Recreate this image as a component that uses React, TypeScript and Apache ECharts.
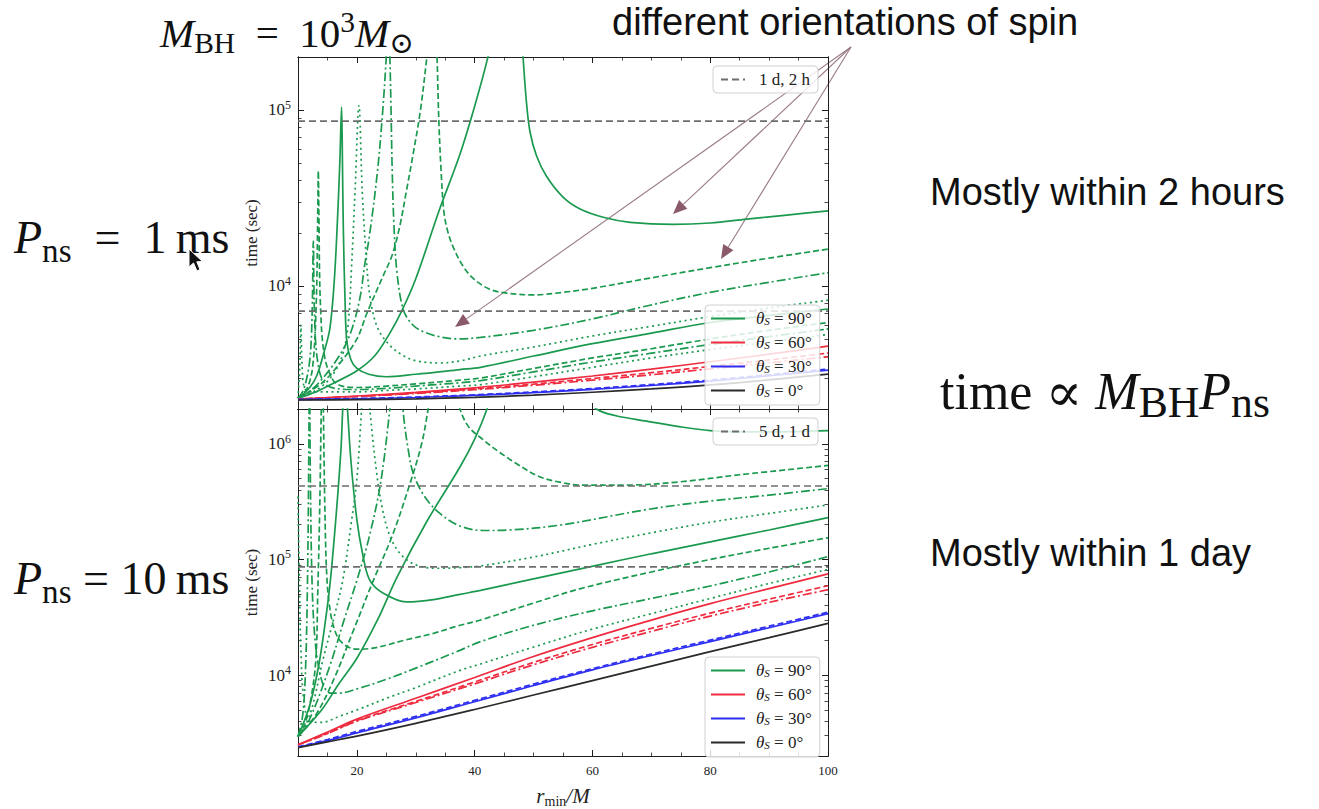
import { useEffect, useRef } from 'react';
import * as echarts from 'echarts';

type Pt = [number, number];

const SERIF = '"Liberation Serif", "DejaVu Serif", serif';
const SANS = '"Liberation Sans", Arial, sans-serif';

// ---- axes -----------------------------------------------------------
const X_MIN = 10;
const X_MAX = 100;
const xMajorTicks = [20, 40, 60, 80, 100];
const xMinorTicks = [15, 25, 30, 35, 45, 50, 55, 65, 70, 75, 85, 90, 95];

const topRange: Pt = [2000, 200000];
const bottomRange: Pt = [2000, 2000000];
const topYMajor = [1e4, 1e5];
const bottomYMajor = [1e4, 1e5, 1e6];
const topYMinor = [3e3, 4e3, 5e3, 6e3, 7e3, 8e3, 9e3, 2e4, 3e4, 4e4, 5e4, 6e4, 7e4, 8e4, 9e4];
const bottomYMinor = [
  3e3, 4e3, 5e3, 6e3, 7e3, 8e3, 9e3,
  2e4, 3e4, 4e4, 5e4, 6e4, 7e4, 8e4, 9e4,
  2e5, 3e5, 4e5, 5e5, 6e5, 7e5, 8e5, 9e5,
];

// reference durations in seconds
const topRefLevels = [86400, 7200]; // 1 d, 2 h
const bottomRefLevels = [432000, 86400]; // 5 d, 1 d

// ---- P_ns = 1 ms ------------------------------------------------------
const topG90SolidA_rise: Pt[] = [[10, 2300], [13, 2500], [16, 2800], [20, 3300], [23, 4000], [25.6, 5400], [27.6, 7200], [30, 1.1e4], [34, 2.7e4], [37.5, 5.6e4], [40, 1.05e5], [42.3, 2.03e5], [43.5, 3.2e5]];
const topG90SolidA_fall: Pt[] = [[47.8, 3.2e5], [48.2, 2.03e5], [48.8, 1.1e5], [49.4, 7.5e4], [50.5, 5.5e4], [52.2, 4.2e4], [55, 3.2e4], [57.9, 2.74e4], [62, 2.45e4], [66.4, 2.3e4], [73.7, 2.24e4], [80, 2.28e4], [86.2, 2.4e4], [93, 2.53e4], [100, 2.67e4]];
const topG90DashedA_rise: Pt[] = [[10, 2300], [14, 2800], [17, 3600], [20, 5000], [21.7, 7000], [24.5, 1.15e4], [26, 1.5e4], [27.3, 2.2e4], [28.5, 3.6e4], [29.5, 5.5e4], [30.8, 1e5], [31.9, 2.03e5], [32.5, 3.2e5]];
const topG90DashedA_fall: Pt[] = [[33.3, 3.2e5], [33.6, 2.03e5], [33.9, 9e4], [34.3, 4.5e4], [34.8, 2.6e4], [35.5, 2e4], [36.4, 1.65e4], [38, 1.3e4], [39.8, 1.1e4], [42.5, 9.6e3], [45.4, 9.1e3], [50, 8.9e3], [55, 9.2e3], [60, 9.7e3], [69.2, 1.1e4], [80, 1.27e4], [90, 1.44e4], [100, 1.62e4]];
const topG90DashDotA_rise: Pt[] = [[10, 2300], [13, 2700], [17, 4000], [19, 5500], [20.5, 8500], [21.3, 1.3e4], [22.2, 2e4], [23.5, 4.5e4], [24.4, 1e5], [25, 2.03e5], [25.3, 3.2e5]];
const topG90DashDotA_fall: Pt[] = [[25.4, 3.2e5], [25.6, 2.03e5], [25.8, 1e5], [26, 4.5e4], [26.3, 2.2e4], [26.8, 1.2e4], [27.9, 7.3e3], [29.5, 6e3], [31.3, 5.5e3], [34, 5.15e3], [37, 5e3], [41, 5.1e3], [50, 5.6e3], [60, 6.5e3], [69.2, 7.7e3], [80, 9.2e3], [90, 1.05e4], [100, 1.19e4]];
const topG90DottedA: Pt[] = [[10, 2300], [13, 2550], [15.5, 3000], [17.5, 4000], [18.5, 6000], [19.1, 1.3e4], [19.7, 3.5e4], [20.35, 1.06e5], [20.9, 3.5e4], [21.4, 1.8e4], [22.2, 8.8e3], [23.5, 5.8e3], [25.6, 4.6e3], [28, 4e3], [30.2, 3.75e3], [34, 3.65e3], [37.5, 3.75e3], [41, 4e3], [50, 4.5e3], [60, 5.2e3], [70, 5.9e3], [80, 6.7e3], [90, 7.5e3], [100, 8.3e3]];
const topG90SolidB: Pt[] = [[10, 2300], [12, 2650], [13.2, 3100], [14.5, 4300], [15.4, 5700], [16.1, 1e4], [16.6, 2e4], [17.1, 5e4], [17.4, 1.04e5], [17.55, 5e4], [17.7, 2.1e4], [18, 8e3], [18.3, 4.8e3], [19, 3.8e3], [20, 3.4e3], [22, 3.15e3], [25, 3.05e3], [30, 3.15e3], [37.5, 3.35e3], [41, 3.45e3], [50, 4e3], [60, 4.7e3], [70, 5.4e3], [80, 6.2e3], [90, 6.8e3], [100, 7.4e3]];
const topG90DashedB: Pt[] = [[10, 2300], [11.5, 2600], [12.5, 3500], [13.1, 8e3], [13.35, 2.5e4], [13.45, 4.5e4], [13.55, 2.5e4], [13.8, 8e3], [14.5, 4e3], [16, 2.9e3], [17.5, 2.7e3], [20, 2.65e3], [25, 2.7e3], [30, 2.78e3], [37.5, 2.92e3], [41, 3e3], [50, 3.4e3], [60, 3.9e3], [70, 4.4e3], [80, 5e3], [90, 5.6e3], [100, 6.2e3]];
const topG90DashDotB: Pt[] = [[10, 2300], [11, 2600], [12, 3800], [12.4, 7e3], [12.6, 1.8e4], [12.8, 7e3], [13.3, 3.8e3], [14.5, 2.8e3], [17, 2.6e3], [20, 2.58e3], [25, 2.62e3], [30, 2.7e3], [37.5, 2.82e3], [41, 2.9e3], [50, 3.25e3], [60, 3.7e3], [70, 4.15e3], [80, 4.65e3], [90, 5.15e3], [100, 5.7e3]];
const topG90DottedB: Pt[] = [[10, 2300], [10.3, 3500], [10.5, 6e3], [10.7, 3500], [11.2, 2.6e3], [13, 2.5e3], [17, 2.5e3], [20, 2.5e3], [25, 2.55e3], [30, 2.6e3], [37.5, 2.7e3], [41, 2.75e3], [50, 3.05e3], [60, 3.45e3], [70, 3.9e3], [80, 4.35e3], [90, 4.8e3], [100, 5.3e3]];
const topR60Solid: Pt[] = [[10, 2280], [20, 2370], [30, 2490], [40, 2640], [50, 2840], [60, 3080], [70, 3370], [80, 3710], [90, 4100], [100, 4550]];
const topR60Dashed: Pt[] = [[10, 2280], [20, 2360], [30, 2465], [40, 2600], [50, 2770], [60, 2980], [70, 3215], [80, 3490], [90, 3800], [100, 4160]];
const topR60DashDot: Pt[] = [[10, 2280], [20, 2355], [30, 2450], [40, 2575], [50, 2730], [60, 2915], [70, 3130], [80, 3380], [90, 3660], [100, 3960]];
const topB30Solid: Pt[] = [[10, 2260], [20, 2285], [30, 2325], [40, 2390], [50, 2475], [60, 2585], [70, 2720], [80, 2880], [90, 3090], [100, 3330]];
const topB30Dashed: Pt[] = [[10, 2265], [20, 2295], [30, 2340], [40, 2410], [50, 2500], [60, 2615], [70, 2755], [80, 2920], [90, 3130], [100, 3375]];
const topK0Solid: Pt[] = [[10, 2250], [20, 2260], [30, 2285], [40, 2330], [50, 2400], [60, 2490], [70, 2600], [80, 2740], [90, 2930], [100, 3160]];

// ---- P_ns = 10 ms -----------------------------------------------------
const botG90SolidA_rise: Pt[] = [[10, 2950], [14, 5000], [17, 8500], [20, 1.4e4], [23.5, 3e4], [26.8, 7e4], [31.8, 2.1e5], [37.5, 6.3e5], [40, 1.1e6], [42.1, 2e6], [42.8, 2.8e6]];
const botG90SolidA_fall: Pt[] = [[58.5, 2.8e6], [60.7, 2e6], [64, 1.75e6], [69.2, 1.57e6], [75, 1.4e6], [80, 1.3e6], [85, 1.27e6], [90, 1.27e6], [100, 1.3e6]];
const botG90DashedA_rise: Pt[] = [[10, 2950], [13, 4500], [16, 9000], [19.5, 2.5e4], [22.8, 6.6e4], [26, 1.6e5], [29, 4.5e5], [31, 1e6], [32.1, 2e6], [32.6, 3e6]];
const botG90DashedA_fall: Pt[] = [[36.8, 3e6], [37.5, 2e6], [39, 1.4e6], [41.5, 1.08e6], [44, 8.6e5], [47, 6.8e5], [51, 5.2e5], [55, 4.6e5], [58, 4.4e5], [66, 4.4e5], [75, 4.7e5], [85, 5.4e5], [100, 6.5e5]];
const botG90DashDotA_rise: Pt[] = [[10, 2950], [12, 4200], [15.4, 1.2e4], [18, 3.2e4], [20, 6.6e4], [22, 1.5e5], [24, 4.5e5], [25.6, 2e6], [26, 3.5e6]];
const botG90DashDotA_fall: Pt[] = [[27.5, 3.5e6], [27.9, 1.8e6], [28.7, 9e5], [29.6, 5.5e5], [31.5, 3.5e5], [34.1, 2.5e5], [37.5, 1.95e5], [41.5, 1.78e5], [46, 1.8e5], [55, 2e5], [69.2, 2.7e5], [80, 3.2e5], [90, 3.6e5], [100, 4.1e5]];
const botG90DottedA_rise: Pt[] = [[10, 2950], [12, 4500], [14.3, 1.4e4], [16, 3e4], [17.6, 6.6e4], [19, 2e5], [20, 5e5], [20.8, 2e6], [21.2, 4e6]];
const botG90DottedA_fall: Pt[] = [[21.8, 4e6], [22.2, 2e6], [23.3, 5.9e5], [24.3, 2.8e5], [25.6, 1.6e5], [27.5, 1.1e5], [30.2, 8.9e4], [34, 8.4e4], [37.5, 8.5e4], [41, 8.8e4], [50, 1.05e5], [60, 1.35e5], [70, 1.7e5], [80, 2.1e5], [90, 2.5e5], [100, 2.96e5]];
const botG90SolidB_rise: Pt[] = [[10, 2950], [12, 5500], [13.5, 1.2e4], [14.6, 2.8e4], [15.5, 6.6e4], [16.5, 2.5e5], [17.3, 9e5], [17.6, 2e6], [17.9, 3.2e6]];
const botG90SolidB_fall: Pt[] = [[18.1, 3.2e6], [18.4, 2e6], [19, 7e5], [20, 2.2e5], [21, 1.1e5], [22.2, 6.6e4], [24.5, 5.1e4], [28.4, 4.3e4], [33, 4.5e4], [37.5, 5e4], [41, 5.4e4], [50, 6.8e4], [60.7, 8.9e4], [70, 1.12e5], [80, 1.42e5], [90, 1.8e5], [100, 2.3e5]];
const botG90DashedB_rise: Pt[] = [[10, 2950], [11, 3600], [12, 5500], [13, 1.3e4], [13.35, 5e4], [13.7, 3e5], [13.95, 2e6], [14.05, 3e6]];
const botG90DashedB_fall: Pt[] = [[14.2, 3e6], [14.3, 2e6], [14.55, 3e5], [14.9, 7e4], [15.5, 3.5e4], [16.3, 2.4e4], [17.1, 2e4], [18.5, 1.75e4], [20, 1.68e4], [23, 1.72e4], [28, 2e4], [33, 2.3e4], [37, 2.65e4], [41, 3e4], [50, 4.2e4], [58, 5.6e4], [70, 7.8e4], [80, 1e5], [90, 1.25e5], [100, 1.54e5]];
const botG90DashDotB_rise: Pt[] = [[10, 2950], [10.8, 4500], [11.3, 1.2e4], [11.6, 6e4], [11.8, 5e5], [11.9, 3e6]];
const botG90DashDotB_fall: Pt[] = [[12, 3e6], [12.1, 5e5], [12.4, 6e4], [12.9, 2e4], [13.7, 1.05e4], [14.5, 7.8e3], [15.5, 7e3], [17, 7e3], [20, 7.6e3], [25, 9.2e3], [30, 1.15e4], [37, 1.6e4], [41, 1.95e4], [50, 2.7e4], [60, 3.6e4], [70, 4.6e4], [80, 5.9e4], [90, 7.8e4], [100, 1.06e5]];
const botG90DottedB: Pt[] = [[10, 3.5e5], [10.2, 8e4], [10.5, 1.6e4], [11, 6e3], [12, 4e3], [14, 3.9e3], [17, 4.4e3], [20, 5e3], [25, 6.3e3], [30, 7.8e3], [37.5, 1.1e4], [41, 1.25e4], [50, 1.75e4], [60, 2.5e4], [70, 3.4e4], [80, 4.6e4], [90, 6.2e4], [100, 8.2e4]];
const botR60Solid: Pt[] = [[10, 2500], [15, 3220], [20, 4170], [30, 6310], [40, 9550], [50, 1.45e4], [60, 2.11e4], [70, 2.99e4], [80, 4.15e4], [90, 5.6e4], [100, 7.5e4]];
const botR60Dashed: Pt[] = [[10, 2500], [15, 3140], [20, 4050], [30, 5930], [40, 8740], [50, 1.29e4], [60, 1.84e4], [70, 2.54e4], [80, 3.44e4], [90, 4.54e4], [100, 5.93e4]];
const botR60DashDot: Pt[] = [[10, 2500], [15, 3120], [20, 4000], [30, 5800], [40, 8400], [50, 1.23e4], [60, 1.74e4], [70, 2.39e4], [80, 3.24e4], [90, 4.26e4], [100, 5.48e4]];
const botB30Solid: Pt[] = [[10, 2380], [15, 2720], [20, 3170], [30, 4270], [40, 5890], [50, 8130], [60, 1.11e4], [70, 1.48e4], [80, 1.95e4], [90, 2.57e4], [100, 3.4e4]];
const botB30Dashed: Pt[] = [[10, 2400], [15, 2780], [20, 3260], [30, 4400], [40, 6060], [50, 8370], [60, 1.14e4], [70, 1.52e4], [80, 2.01e4], [90, 2.65e4], [100, 3.5e4]];
const botK0Solid: Pt[] = [[10, 2360], [15, 2650], [20, 2970], [30, 3830], [40, 5050], [50, 6730], [60, 8970], [70, 1.197e4], [80, 1.596e4], [90, 2.11e4], [100, 2.8e4]];

// ---- styling --------------------------------------------------------
const COLORS: Record<number, string> = { 90: '#1b9a4f', 60: '#ef2b3f', 30: '#2f2ff2', 0: '#2a2a2a' };
const DASH: Record<string, any> = {
  solid: 'solid',
  dashed: [6, 3],
  dashdot: [9, 3, 2, 3],
  dotted: [2, 3.5],
};
const AXIS = '#1e1e1e';
const REF = '#6d6d6d';
const thetaName = (deg: number) => `θ_S = ${deg}°`;

type Curve = { panel: number; theta: number; style: string; parts: Pt[][] };

const curves: Curve[] = [
  { panel: 0, theta: 90, style: 'solid', parts: [topG90SolidA_rise, topG90SolidA_fall] },
  { panel: 0, theta: 90, style: 'dashed', parts: [topG90DashedA_rise, topG90DashedA_fall] },
  { panel: 0, theta: 90, style: 'dashdot', parts: [topG90DashDotA_rise, topG90DashDotA_fall] },
  { panel: 0, theta: 90, style: 'dotted', parts: [topG90DottedA] },
  { panel: 0, theta: 90, style: 'solid', parts: [topG90SolidB] },
  { panel: 0, theta: 90, style: 'dashed', parts: [topG90DashedB] },
  { panel: 0, theta: 90, style: 'dashdot', parts: [topG90DashDotB] },
  { panel: 0, theta: 90, style: 'dotted', parts: [topG90DottedB] },
  { panel: 0, theta: 60, style: 'solid', parts: [topR60Solid] },
  { panel: 0, theta: 60, style: 'dashed', parts: [topR60Dashed] },
  { panel: 0, theta: 60, style: 'dashdot', parts: [topR60DashDot] },
  { panel: 0, theta: 30, style: 'solid', parts: [topB30Solid] },
  { panel: 0, theta: 30, style: 'dashed', parts: [topB30Dashed] },
  { panel: 0, theta: 0, style: 'solid', parts: [topK0Solid] },

  { panel: 1, theta: 90, style: 'solid', parts: [botG90SolidA_rise, botG90SolidA_fall] },
  { panel: 1, theta: 90, style: 'dashed', parts: [botG90DashedA_rise, botG90DashedA_fall] },
  { panel: 1, theta: 90, style: 'dashdot', parts: [botG90DashDotA_rise, botG90DashDotA_fall] },
  { panel: 1, theta: 90, style: 'dotted', parts: [botG90DottedA_rise, botG90DottedA_fall] },
  { panel: 1, theta: 90, style: 'solid', parts: [botG90SolidB_rise, botG90SolidB_fall] },
  { panel: 1, theta: 90, style: 'dashed', parts: [botG90DashedB_rise, botG90DashedB_fall] },
  { panel: 1, theta: 90, style: 'dashdot', parts: [botG90DashDotB_rise, botG90DashDotB_fall] },
  { panel: 1, theta: 90, style: 'dotted', parts: [botG90DottedB] },
  { panel: 1, theta: 60, style: 'solid', parts: [botR60Solid] },
  { panel: 1, theta: 60, style: 'dashed', parts: [botR60Dashed] },
  { panel: 1, theta: 60, style: 'dashdot', parts: [botR60DashDot] },
  { panel: 1, theta: 30, style: 'solid', parts: [botB30Solid] },
  { panel: 1, theta: 30, style: 'dashed', parts: [botB30Dashed] },
  { panel: 1, theta: 0, style: 'solid', parts: [botK0Solid] },
];

function buildSeries() {
  const out: any[] = [];
  curves.forEach((c) => {
    c.parts.forEach((part) => {
      out.push({
        type: 'line',
        name: thetaName(c.theta),
        xAxisIndex: c.panel * 4,
        yAxisIndex: c.panel * 4,
        data: part,
        symbol: 'none',
        showSymbol: false,
        smooth: 0.35,
        color: COLORS[c.theta],
        lineStyle: { color: COLORS[c.theta], width: 1.7, type: DASH[c.style] },
        silent: true,
        z: 2,
      });
    });
  });
  const refs: [number, number[], string][] = [
    [0, topRefLevels, '1 d, 2 h'],
    [1, bottomRefLevels, '5 d, 1 d'],
  ];
  refs.forEach(([panel, levels, name]) => {
    levels.forEach((lv) => {
      out.push({
        type: 'line',
        name,
        xAxisIndex: panel * 4,
        yAxisIndex: panel * 4,
        data: [[X_MIN, lv], [X_MAX, lv]],
        symbol: 'none',
        showSymbol: false,
        color: REF,
        lineStyle: { color: REF, width: 1.6, type: [7, 4] },
        silent: true,
        z: 3,
      });
    });
  });
  return out;
}

const powLabel = (v: number) => {
  const e = v < 50 ? Math.round(v) : Math.round(Math.log10(v));
  return `{b|10}{e|${e}}`;
};

function xAxesFor(grid: number, labelled: boolean) {
  const base = {
    type: 'value',
    gridIndex: grid,
    min: X_MIN,
    max: X_MAX,
    splitLine: { show: false },
    axisLine: { show: true, onZero: false, lineStyle: { color: AXIS, width: 1 } },
  };
  const major = { show: true, inside: true, length: 6, customValues: xMajorTicks, lineStyle: { color: AXIS, width: 1 } };
  const minor = { show: true, inside: true, length: 3.5, customValues: xMinorTicks, lineStyle: { color: AXIS, width: 0.8 } };
  return [
    {
      ...base,
      position: 'bottom',
      axisTick: major,
      axisLabel: labelled
        ? { show: true, customValues: xMajorTicks, margin: 8, fontFamily: SERIF, fontSize: 13, color: '#222' }
        : { show: false },
      name: labelled ? '{i|r}{s|min}{i|/M}' : '',
      nameLocation: 'middle',
      nameGap: 28,
      nameTextStyle: {
        rich: {
          i: { fontFamily: SERIF, fontStyle: 'italic', fontSize: 21, color: '#222', lineHeight: 24 },
          s: { fontFamily: SERIF, fontSize: 14, color: '#222', verticalAlign: 'bottom', lineHeight: 14 },
        },
      },
    },
    { ...base, position: 'bottom', axisTick: minor, axisLabel: { show: false } },
    { ...base, position: 'top', axisTick: major, axisLabel: { show: false } },
    { ...base, position: 'top', axisTick: minor, axisLabel: { show: false } },
  ];
}

function yAxesFor(grid: number, range: Pt, major: number[], minor: number[]) {
  const base = {
    type: 'log',
    logBase: 10,
    gridIndex: grid,
    min: range[0],
    max: range[1],
    splitLine: { show: false },
    axisLine: { show: true, onZero: false, lineStyle: { color: AXIS, width: 1 } },
  };
  const majorTick = { show: true, inside: true, length: 6, customValues: major, lineStyle: { color: AXIS, width: 1 } };
  const minorTick = { show: true, inside: true, length: 3.5, customValues: minor, lineStyle: { color: AXIS, width: 0.8 } };
  return [
    {
      ...base,
      position: 'left',
      axisTick: majorTick,
      axisLabel: {
        show: true,
        customValues: major,
        margin: 7,
        formatter: powLabel,
        rich: {
          b: { fontFamily: SERIF, fontSize: 17, color: '#222', lineHeight: 22 },
          e: { fontFamily: SERIF, fontSize: 12, color: '#222', verticalAlign: 'top', lineHeight: 12 },
        },
      },
      name: 'time (sec)',
      nameLocation: 'middle',
      nameGap: 38,
      nameRotate: 90,
      nameTextStyle: { fontFamily: SERIF, fontSize: 17, color: '#222' },
    },
    { ...base, position: 'left', axisTick: minorTick, axisLabel: { show: false } },
    { ...base, position: 'right', axisTick: majorTick, axisLabel: { show: false } },
    { ...base, position: 'right', axisTick: minorTick, axisLabel: { show: false } },
  ];
}

const thetaLegendNames = [90, 60, 30, 0].map(thetaName);

const legendBase = {
  orient: 'vertical',
  selectedMode: false,
  itemWidth: 34,
  itemHeight: 16,
  itemGap: 7,
  padding: [5, 8, 6, 5],
  backgroundColor: 'rgba(255,255,255,0.82)',
  borderColor: '#d0d0d0',
  borderWidth: 1,
  borderRadius: 4,
  itemStyle: { opacity: 0 },
  textStyle: {
    fontFamily: SERIF,
    fontSize: 16,
    color: '#222',
    rich: {
      th: { fontFamily: SERIF, fontStyle: 'italic', fontSize: 17, color: '#222', lineHeight: 16, padding: [0, 0, 0, 6] },
      sb: { fontFamily: SERIF, fontStyle: 'italic', fontSize: 11, color: '#222', verticalAlign: 'bottom', lineHeight: 11 },
      n: { fontFamily: SERIF, fontSize: 17, color: '#222', lineHeight: 16 },
      r: { fontFamily: SERIF, fontSize: 17, color: '#222', lineHeight: 16, padding: [0, 0, 0, 9] },
    },
  },
  formatter: (name: string) => (name.startsWith('θ') ? `{th|θ}{sb|S}{n|${name.slice(3)}}` : `{r|${name}}`),
};

function arrow(x1: number, y1: number, x2: number, y2: number) {
  const dx = x2 - x1;
  const dy = y2 - y1;
  const len = Math.hypot(dx, dy);
  const ux = dx / len;
  const uy = dy / len;
  const head = 14;
  const half = 6;
  const bx = x2 - ux * head;
  const by = y2 - uy * head;
  return [
    { type: 'line', silent: true, shape: { x1, y1, x2: bx, y2: by }, style: { stroke: '#9b7b87', lineWidth: 1.1 } },
    {
      type: 'polygon',
      silent: true,
      shape: { points: [[x2, y2], [bx - uy * half, by + ux * half], [bx + uy * half, by - ux * half]] },
      style: { fill: '#8a5a6b' },
    },
  ];
}

const mathRich = (size: number, subRatio = 0.72) => ({
  m: { fontFamily: SERIF, fontStyle: 'italic', fontSize: size, lineHeight: size * 1.25, fill: '#111' },
  t: { fontFamily: SERIF, fontSize: size, lineHeight: size * 1.25, fill: '#111' },
  pr: { fontFamily: '"DejaVu Serif", serif', fontSize: size * 1.05, lineHeight: size * 1.25, fill: '#111' },
  sb: { fontFamily: SERIF, fontSize: size * subRatio, lineHeight: size * subRatio, verticalAlign: 'bottom', fill: '#111' },
  sp: { fontFamily: SERIF, fontSize: size * subRatio, lineHeight: size * subRatio, verticalAlign: 'top', fill: '#111' },
});

const EN = '\u2002'; // en space
const TH = '\u2009'; // thin space

function buildGraphics() {
  const g: any[] = [
    { type: 'text', silent: true, x: 160, y: 7, style: { text: `{m|M}{sb|BH}{t|${EN}=${EN}10}{sp|3}{m|M}{sb|⊙}`, rich: mathRich(41) } },
    { type: 'text', silent: true, x: 612, y: 3, style: { text: 'different orientations of spin', font: `38px ${SANS}`, fill: '#111' } },
    { type: 'text', silent: true, x: 14, y: 209, style: { text: `{m|P}{sb|ns}{t|${EN}=${EN}1${TH}ms}`, rich: mathRich(46) } },
    { type: 'text', silent: true, x: 14, y: 550, style: { text: `{m|P}{sb|ns}{t| = 10${TH}ms}`, rich: mathRich(46) } },
    { type: 'text', silent: true, x: 930, y: 173, style: { text: 'Mostly within 2 hours', font: `38px ${SANS}`, fill: '#111' } },
    { type: 'text', silent: true, x: 930, y: 534, style: { text: 'Mostly within 1 day', font: `38px ${SANS}`, fill: '#111' } },
    { type: 'text', silent: true, x: 940, y: 359, style: { text: `{t|time }{pr|∝}{t| }{m|M}{sb|BH}{m|P}{sb|ns}`, rich: mathRich(52, 0.84) } },
    {
      type: 'polygon',
      silent: true,
      z: 100,
      shape: { points: [[189, 249], [189, 267], [193.5, 263], [197, 271], [200, 269.5], [196.8, 261.8], [202.5, 261.5]] },
      style: { fill: '#111', stroke: '#fff', lineWidth: 1 },
    },
  ];
  const origin: Pt = [851, 47];
  const tips: Pt[] = [[455, 327], [673, 214], [721, 259]];
  tips.forEach(([tx, ty]) => g.push(...arrow(origin[0], origin[1], tx, ty)));
  return g;
}

export default function App() {
  const ref = useRef<HTMLDivElement>(null);
  useEffect(() => {
    if (!ref.current) return;
    const chart = echarts.init(ref.current, undefined, { renderer: 'svg' });
    chart.setOption({
      animation: false,
      backgroundColor: '#ffffff',
      textStyle: { fontFamily: SERIF },
      grid: [
        { left: 298, top: 57, width: 530, height: 352, show: false },
        { left: 298, top: 409, width: 530, height: 353, show: false },
      ],
      xAxis: [...xAxesFor(0, false), ...xAxesFor(1, true)],
      yAxis: [
        ...yAxesFor(0, topRange, topYMajor, topYMinor),
        ...yAxesFor(1, bottomRange, bottomYMajor, bottomYMinor),
      ],
      legend: [
        { ...legendBase, left: 713, top: 66, itemWidth: 24, padding: [5, 8, 5, 7], data: ['1 d, 2 h'] },
        { ...legendBase, left: 705, top: 305, data: thetaLegendNames },
        { ...legendBase, left: 713, top: 418, itemWidth: 24, padding: [5, 8, 5, 7], data: ['5 d, 1 d'] },
        { ...legendBase, left: 705, top: 657, data: thetaLegendNames },
      ],
      series: buildSeries(),
      graphic: buildGraphics(),
    });
    return () => chart.dispose();
  }, []);
  return (
    <div
      ref={ref}
      style={{ position: 'absolute', left: 0, top: 0, width: 1319, height: 809, background: '#fff' }}
    />
  );
}
